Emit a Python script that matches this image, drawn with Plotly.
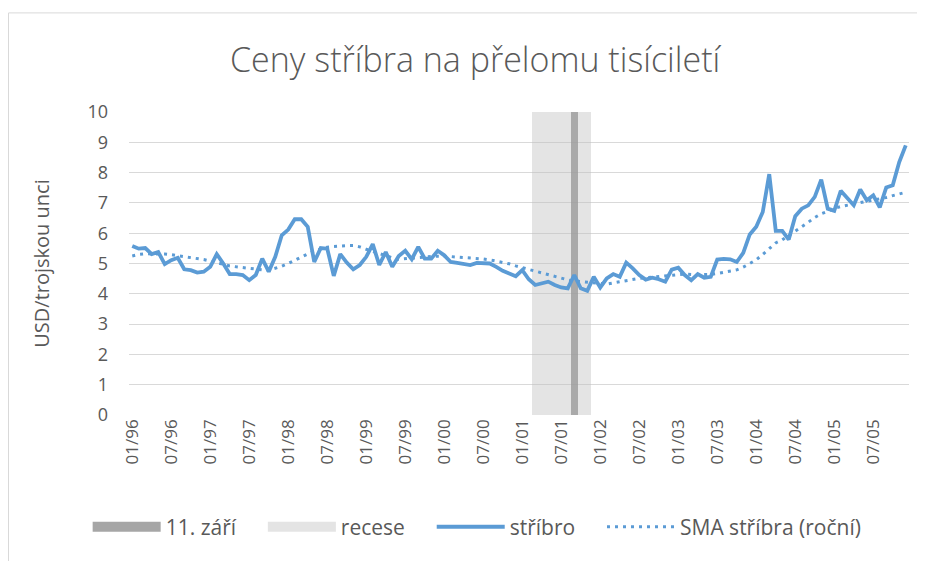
import plotly.graph_objects as go

# monthly data 01/1996 - 12/2005 (USD per troy ounce)
months = [f"{m:02d}/{y % 100:02d}" for y in range(1996, 2006) for m in range(1, 13)]

silver = [
    5.58, 5.49, 5.51, 5.31, 5.38, 4.98, 5.11, 5.19, 4.81, 4.78, 4.70, 4.73,
    4.89, 5.31, 5.00, 4.65, 4.65, 4.62, 4.45, 4.62, 5.16, 4.73, 5.22, 5.93,
    6.12, 6.46, 6.46, 6.21, 5.05, 5.51, 5.49, 4.59, 5.31, 5.03, 4.81, 4.95,
    5.22, 5.64, 4.95, 5.38, 4.89, 5.25, 5.42, 5.14, 5.55, 5.16, 5.16, 5.42,
    5.27, 5.05, 5.02, 4.97, 4.95, 5.02, 5.02, 5.00, 4.89, 4.76, 4.67, 4.58,
    4.78, 4.48, 4.29, 4.34, 4.40, 4.29, 4.21, 4.18, 4.62, 4.18, 4.10, 4.56,
    4.21, 4.51, 4.65, 4.56, 5.03, 4.84, 4.62, 4.47, 4.53, 4.48, 4.40, 4.80,
    4.86, 4.62, 4.45, 4.65, 4.53, 4.56, 5.13, 5.15, 5.14, 5.05, 5.35, 5.96,
    6.21, 6.70, 7.95, 6.08, 6.08, 5.79, 6.56, 6.81, 6.92, 7.20, 7.77, 6.81,
    6.74, 7.40, 7.18, 6.92, 7.44, 7.09, 7.25, 6.85, 7.51, 7.58, 8.35, 8.90,
]

sma = [
    5.25, 5.30, 5.32, 5.32, 5.31, 5.31, 5.29, 5.26, 5.24, 5.21, 5.18, 5.13,
    5.08, 5.02, 4.97, 4.92, 4.89, 4.86, 4.84, 4.81, 4.79, 4.78, 4.84, 4.91,
    5.00, 5.10, 5.20, 5.30, 5.42, 5.48, 5.54, 5.56, 5.58, 5.59, 5.59, 5.55,
    5.47, 5.40, 5.32, 5.26, 5.19, 5.14, 5.16, 5.19, 5.20, 5.22, 5.23, 5.24,
    5.24, 5.23, 5.21, 5.20, 5.18, 5.16, 5.15, 5.12, 5.08, 5.04, 4.99, 4.92,
    4.86, 4.80, 4.76, 4.69, 4.64, 4.58, 4.52, 4.46, 4.42, 4.40, 4.37, 4.34,
    4.33, 4.32, 4.36, 4.40, 4.44, 4.48, 4.51, 4.53, 4.55, 4.57, 4.60, 4.63,
    4.65, 4.65, 4.64, 4.64, 4.63, 4.64, 4.67, 4.71, 4.74, 4.79, 4.88, 4.99,
    5.12, 5.30, 5.49, 5.68, 5.78, 5.92, 6.06, 6.20, 6.36, 6.52, 6.64, 6.72,
    6.82, 6.88, 6.92, 6.96, 7.00, 7.05, 7.09, 7.13, 7.18, 7.24, 7.30, 7.35,
]

# recession 03/2001 - 11/2001, 11 September 2001
recession_months = ["03/01", "04/01", "05/01", "06/01", "07/01", "08/01", "09/01", "10/01", "11/01"]
sept11_months = ["09/01"]
band_top = 10

x_idx = list(range(len(months)))
rec_idx = [months.index(m) for m in recession_months]
s11_idx = [months.index(m) for m in sept11_months]
tick_idx = x_idx[::6]

TXT = "#595959"
FONT = "Open Sans"
PAD = "\u00a0" * 4  # extra room between legend entries

fig = go.Figure()

fig.add_trace(go.Bar(
    x=rec_idx, y=[band_top] * len(rec_idx), width=1,
    marker=dict(color="rgba(190,190,190,0.42)", line=dict(width=0)),
    name="recese", legendgroup="rec", showlegend=False, hoverinfo="skip",
))
fig.add_trace(go.Bar(
    x=s11_idx, y=[band_top] * len(s11_idx), width=1,
    marker=dict(color="rgba(150,150,150,0.75)", line=dict(width=0)),
    name="11. září", legendgroup="s11", showlegend=False, hoverinfo="skip",
))

# legend swatches (wide boxes like the original)
fig.add_trace(go.Scatter(x=[None], y=[None], mode="lines", name="11. září" + PAD,
                         legendgroup="s11", line=dict(color="#a6a6a6", width=12)))
fig.add_trace(go.Scatter(x=[None], y=[None], mode="lines", name="recese" + PAD,
                         legendgroup="rec", line=dict(color="#e4e4e4", width=12)))

fig.add_trace(go.Scatter(
    x=x_idx, y=silver, mode="lines", name="stříbro" + PAD,
    line=dict(color="#5b9bd5", width=3.8),
))
fig.add_trace(go.Scatter(
    x=x_idx, y=sma, mode="lines", name="SMA stříbra (roční)",
    line=dict(color="#5b9bd5", width=3, dash="3px,5px"),
))

fig.update_layout(
    width=925, height=561,
    margin=dict(l=121, r=24, t=104, b=154),
    paper_bgcolor="white", plot_bgcolor="white",
    barmode="overlay", bargap=0,
    font=dict(family=FONT, color=TXT, size=15),
    title=dict(text="Ceny stříbra na přelomu tisíciletí", x=0.505, xanchor="center",
               y=0.907, yanchor="middle",
               font=dict(size=34, color=TXT, family=FONT, weight=300)),
    xaxis=dict(
        range=[-0.5, len(months) - 0.5], tickmode="array", tickvals=tick_idx,
        ticktext=[months[i] for i in tick_idx], tickangle=-90,
        showgrid=False, zeroline=False, showline=False, ticks="",
        tickfont=dict(size=17, color=TXT), automargin=False,
    ),
    yaxis=dict(
        range=[0, 10], dtick=1, showgrid=True, gridcolor="#d9d9d9", gridwidth=1,
        zeroline=False, showline=False, ticks="", ticklabelstandoff=20,
        tickfont=dict(size=18, color=TXT), automargin=False,
        title=dict(text="USD/trojskou unci", font=dict(size=20, color=TXT), standoff=32),
    ),
    legend=dict(orientation="h", x=-0.053, xanchor="left", y=-0.37, yanchor="middle",
                font=dict(size=21, color=TXT), itemwidth=68, traceorder="normal"),
    shapes=[
        dict(type="line", xref="paper", yref="paper", x0=-0.1545, x1=1.05, y0=1.327, y1=1.327,
             line=dict(color="#d9d9d9", width=1)),
        dict(type="line", xref="paper", yref="paper", x0=-0.1545, x1=-0.1545, y0=1.327, y1=-0.55,
             line=dict(color="#d9d9d9", width=1)),
    ],
)

fig.write_html("out.html")
